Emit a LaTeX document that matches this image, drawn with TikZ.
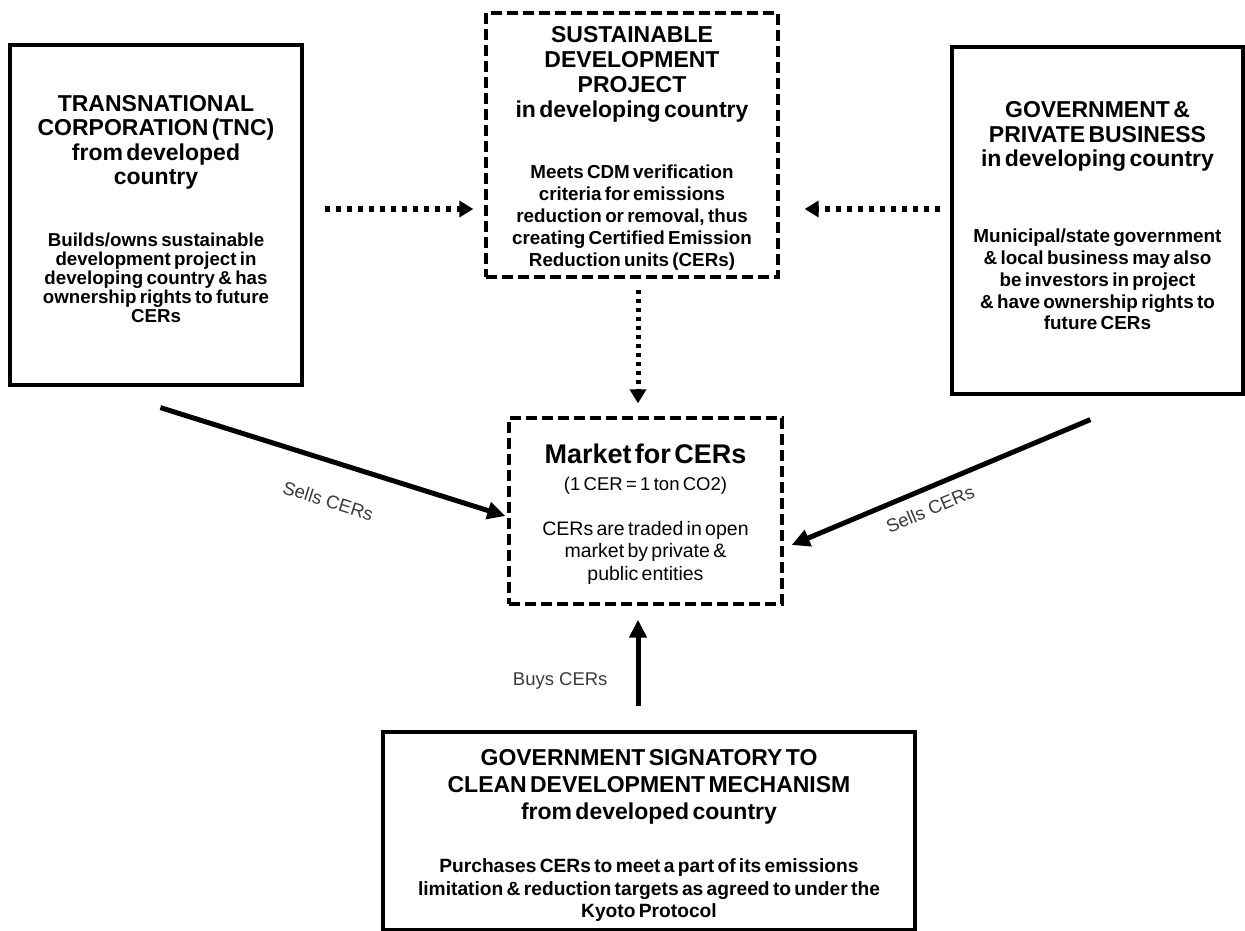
\documentclass[tikz,border=0pt]{standalone}
\usepackage{fontspec}
\setmainfont{Liberation Sans}
\usetikzlibrary{arrows.meta,calc}
\definecolor{lblgray}{HTML}{3A3A3A}
\newcommand\ttlf{\fontsize{23}{24.5}\selectfont\bfseries}
\begin{document}
\begin{tikzpicture}[x=1pt,y=-1pt,
  solidbox/.style={draw=black,line width=3.2pt,rectangle,inner sep=0pt,align=center},
  dashbox/.style={draw=black,line width=3.3pt,dash pattern=on 11pt off 5pt,rectangle,inner sep=0pt,align=center},
  solidarrow/.style={line width=5pt,-{Triangle[length=18pt,width=17pt]}},
  dotarrow/.style={line width=5.5pt,dash pattern=on 5.5pt off 5.5pt,-{Triangle[length=14pt,width=16pt]}},
  vdotarrow/.style={line width=5pt,dash pattern=on 4.5pt off 4.5pt,-{Triangle[length=14pt,width=16pt]}},
  lbl/.style={font=\fontsize{18.5}{20}\selectfont,text=lblgray,inner sep=3.3pt}]
\useasboundingbox (0,0) rectangle (1245,931);

\node[solidbox,minimum width=292pt,minimum height=340pt,text width=285pt] (tnc) at (156,215)
 {{\ttlf\rule{0pt}{16.5pt}TRANSNATIONAL\\CORPORATION (TNC)\\from developed\\country\par}
  \vspace{42.5pt}
  {\fontsize{18.7}{19}\selectfont\bfseries Builds/owns sustainable\\development project in\\developing country \& has\\ownership rights to future\\CERs\rule[-12.5pt]{0pt}{12.5pt}\par}};

\node[dashbox,minimum width=292pt,minimum height=264pt,text width=285pt] (sdp) at (632,145)
 {{\fontsize{23}{25}\selectfont\bfseries\rule{0pt}{22pt}SUSTAINABLE\\DEVELOPMENT\\PROJECT\\in developing country\par}
  \vspace{39pt}
  {\fontsize{18.8}{22}\selectfont\bfseries Meets CDM verification\\criteria for emissions\\reduction or removal, thus\\creating Certified Emission\\Reduction units (CERs)\par}};

\node[solidbox,minimum width=291pt,minimum height=347pt,text width=285pt] (gov) at (1097.5,220.5)
 {{\ttlf\rule{0pt}{16.5pt}GOVERNMENT \&\\PRIVATE BUSINESS\\in developing country\par}
  \vspace{54.25pt}
  {\fontsize{18.9}{21.75}\selectfont\bfseries Municipal/state government\\\& local business may also\\be investors in project\\\& have ownership rights to\\future CERs\rule[-9.5pt]{0pt}{9.5pt}\par}};

\node[dashbox,minimum width=273pt,minimum height=186pt,text width=265pt] (mkt) at (645.5,511)
 {{\fontsize{27}{27}\selectfont\bfseries\rule{0pt}{25.5pt}Market for CERs\par}
  {\fontsize{18.5}{27}\selectfont (1 CER = 1 ton CO2)\par}
  \vspace{22.5pt}
  {\fontsize{19.5}{22.5}\selectfont CERs are traded in open\\market by private \&\\public entities\par}};

\node[solidbox,minimum width=532pt,minimum height=198pt,text width=525pt] (bot) at (649,831)
 {{\fontsize{23}{27}\selectfont\bfseries\rule{0pt}{25pt}GOVERNMENT SIGNATORY TO\\CLEAN DEVELOPMENT MECHANISM\\from developed country\par}
  \vspace{30.5pt}
  {\fontsize{19.2}{22.5}\selectfont\bfseries Purchases CERs to meet a part of its emissions\\limitation \& reduction targets as agreed to under the\\Kyoto Protocol\par}};

\draw[dotarrow] ($(tnc.east)+(21,-6)$) -- ($(sdp.west)+(-11,64)$);
\draw[dotarrow] ($(gov.west)+(-10,-11.5)$) -- ($(sdp.east)+(25,64)$);
\draw[vdotarrow] ($(sdp.south)+(6,11)$) -- ($(mkt.north)+(-7.5,-13)$);

\draw[solidarrow] ($(tnc.south west)+(152,21)$) -- node[lbl,sloped,pos=0.52,below=26pt] (lblA) {Sells CERs} ($(mkt.west)+(-2,5)$);
\draw[solidarrow] ($(gov.south west)+(140,24)$) -- node[lbl,sloped,pos=0.563,below=8pt] (lblB) {Sells CERs} ($(mkt.east)+(8,34)$);
\draw[solidarrow] ($(bot.north)+(-11,-24)$) -- node[lbl,pos=0.29,left=24.7pt] (lblC) {Buys CERs} ($(mkt.south)+(-7.5,14)$);
\end{tikzpicture}
\end{document}
